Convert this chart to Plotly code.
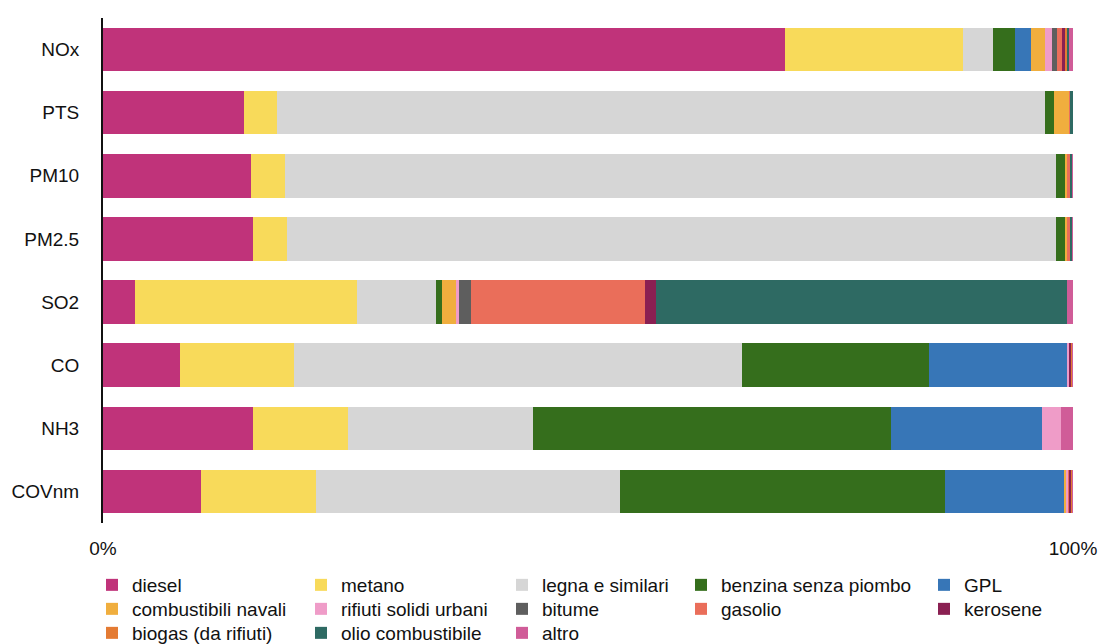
import plotly.graph_objects as go

categories = ["NOx", "PTS", "PM10", "PM2.5", "SO2", "CO", "NH3", "COVnm"]

series_names = ["diesel", "metano", "legna e similari", "benzina senza piombo", "GPL",
                "combustibili navali", "rifiuti solidi urbani", "bitume", "gasolio", "kerosene",
                "biogas (da rifiuti)", "olio combustibile", "altro"]

diesel = [70.31, 14.54, 15.26, 15.46, 3.3, 7.94, 15.46, 10.1]
metano = [18.38, 3.4, 3.5, 3.5, 22.9, 11.75, 9.79, 11.86]
legna = [3.09, 79.2, 79.6, 79.4, 8.14, 46.19, 19.07, 31.34]
benzina = [2.24, 0.9, 0.93, 0.93, 0.62, 19.18, 36.9, 33.4]
gpl = [1.62, 0, 0, 0, 0, 14.33, 15.57, 12.27]
navali = [1.51, 1.55, 0.15, 0.15, 1.44, 0, 0, 0.25]
rifiuti = [0.72, 0, 0, 0, 0.28, 0.15, 1.96, 0.2]
bitume = [0.48, 0, 0, 0, 1.3, 0, 0, 0]
gasolio = [0.48, 0.05, 0.3, 0.3, 17.84, 0.05, 0, 0.05]
kerosene = [0.41, 0, 0, 0, 1.17, 0.2, 0, 0.25]
biogas = [0.1, 0, 0, 0, 0, 0.1, 0, 0.15]
olio = [0.25, 0.35, 0.3, 0.3, 42.4, 0, 0, 0]
altro = [0.4, 0, 0.05, 0.05, 0.6, 0.05, 1.24, 0.05]

values = [diesel, metano, legna, benzina, gpl, navali, rifiuti, bitume, gasolio,
          kerosene, biogas, olio, altro]

colors = ["#C0337A", "#F8DA5A", "#D6D6D6", "#356E1C", "#3776B7", "#F0AE3E", "#EF9CC8",
          "#5E5E5E", "#EA6E5A", "#8A2052", "#E47B33", "#2E6A63", "#D05C98"]

tick_vals = [0, 100]
tick_text = ["0%", "100%"]

font_family = "Liberation Sans, Arial, Helvetica, sans-serif"
W, H = 1102, 644
ml, mt = 103, 18
mr = W - 1073
mb = H - 523
pw = W - ml - mr
ph = H - mt - mb

# legend grid: 5 columns, 3 rows (one single-item legend per cell)
col_swatch_px = [105, 314, 515, 694, 937]
row_center_px = [585, 609, 633]

fig = go.Figure()
legends = {}
for i, (name, vals, col) in enumerate(zip(series_names, values, colors)):
    key = "legend" if i == 0 else f"legend{i+1}"
    fig.add_trace(go.Bar(
        y=categories, x=vals, name=name, orientation="h",
        marker=dict(color=col, line=dict(width=0)),
        legend=key,
    ))
    r, c = divmod(i, 5)
    legends[key] = dict(
        x=(col_swatch_px[c] - 13 - ml) / pw,
        y=-(row_center_px[r] - (H - mb)) / ph,
        xanchor="left", yanchor="middle", orientation="v",
        font=dict(family=font_family, size=19, color="#111"),
        bgcolor="rgba(0,0,0,0)", borderwidth=0, itemclick=False,
    )

fig.update_layout(
    width=W, height=H,
    barmode="stack", barnorm="percent", bargap=0.31,
    margin=dict(l=ml, r=mr, t=mt, b=mb, autoexpand=False),
    plot_bgcolor="white", paper_bgcolor="white",
    font=dict(family=font_family, size=19, color="#111"),
    showlegend=True,
    **legends,
)
fig.update_xaxes(range=[0, 100], tickvals=tick_vals, ticktext=tick_text,
                 showgrid=True, gridcolor="#d4d4d4", gridwidth=1.5, zeroline=False,
                 showline=False, ticks="", fixedrange=True, automargin=False,
                 ticklabelstandoff=12,
                 tickfont=dict(size=19, color="#111"))
fig.update_yaxes(autorange="reversed", showline=True, linecolor="#111", linewidth=2,
                 ticks="", showgrid=False, ticklabelstandoff=18, automargin=False,
                 tickfont=dict(size=19, color="#111"))

fig.write_html("out.html",
               config={"displayModeBar": False},
               post_script="document.body.style.margin='0px';document.body.style.overflow='hidden';")
